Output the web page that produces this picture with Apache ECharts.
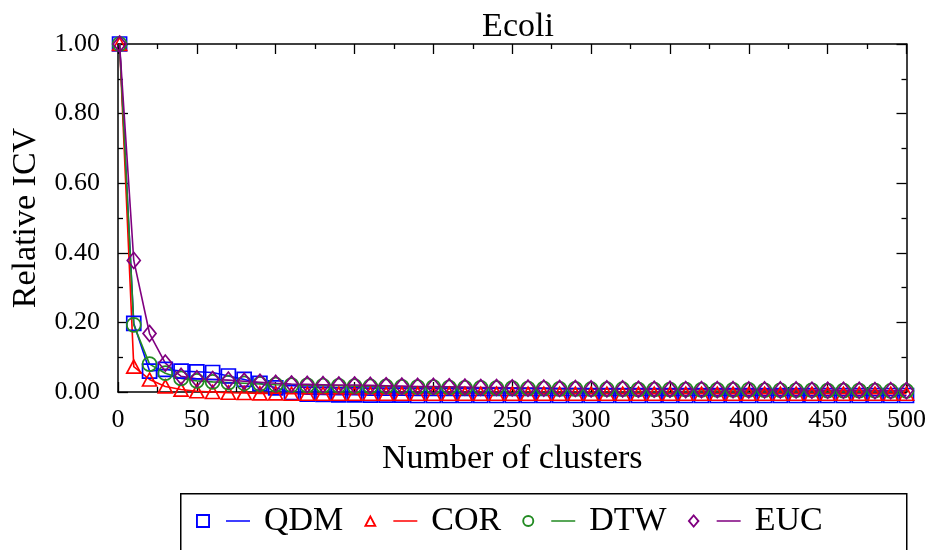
<!DOCTYPE html>
<html>
<head>
<meta charset="utf-8">
<script src="https://cdn.jsdelivr.net/npm/echarts@6/dist/echarts.min.js"></script>
<style>
html,body{margin:0;padding:0;background:#fff;}
#chart{width:929px;height:550px;}
</style>
</head>
<body>
<div id="chart"></div>
<script>
// ---- data ----
const clusters = [1,10,20,30,40,50,60,70,80,90,100,110,120,130,140,150,160,170,180,190,200,210,220,230,240,250,260,270,280,290,300,310,320,330,340,350,360,370,380,390,400,410,420,430,440,450,460,470,480,490,500];
const QDM = [1.000,0.197,0.060,0.065,0.060,0.058,0.056,0.046,0.036,0.025,0.012,-0.002,
  -0.006,-0.007,-0.008,-0.008,-0.009,-0.009,-0.009,-0.010,-0.010,-0.010,-0.010,-0.010,-0.010,-0.010,-0.010,-0.010,-0.010,-0.010,-0.010,
  -0.010,-0.010,-0.010,-0.010,-0.010,-0.010,-0.010,-0.010,-0.010,-0.010,-0.010,-0.010,-0.010,-0.010,-0.010,-0.010,-0.010,-0.010,-0.010,-0.010];
const COR = [1.000,0.073,0.036,0.016,0.007,0.002,0.000,-0.002,-0.003,-0.004,-0.004,-0.005,
  -0.005,-0.005,-0.005,-0.005,-0.005,-0.005,-0.005,-0.005,-0.005,-0.005,-0.005,-0.005,-0.005,-0.005,-0.005,-0.005,-0.005,-0.005,-0.005,
  -0.005,-0.005,-0.005,-0.005,-0.005,-0.005,-0.005,-0.005,-0.005,-0.005,-0.005,-0.005,-0.005,-0.005,-0.005,-0.005,-0.005,-0.005,-0.005,-0.005];
const DTW = [1.000,0.193,0.080,0.054,0.039,0.032,0.029,0.027,0.025,0.023,0.021,0.020,
  0.019,0.018,0.018,0.017,0.016,0.016,0.015,0.014,0.014,0.013,0.012,0.012,0.011,0.011,0.010,0.010,0.009,0.009,0.008,
  0.008,0.008,0.007,0.007,0.007,0.007,0.006,0.006,0.006,0.006,0.005,0.005,0.005,0.005,0.004,0.004,0.004,0.004,0.003,0.003];
const EUC = [1.000,0.378,0.168,0.083,0.045,0.038,0.036,0.034,0.031,0.028,0.025,0.023,
  0.022,0.021,0.020,0.020,0.019,0.018,0.017,0.016,0.016,0.015,0.014,0.013,0.013,0.012,0.011,0.011,0.010,0.010,0.009,
  0.009,0.009,0.008,0.008,0.008,0.007,0.007,0.007,0.007,0.006,0.006,0.006,0.006,0.005,0.005,0.005,0.005,0.004,0.004,0.004];
const seriesNames = ['QDM','COR','DTW','EUC'];
const xTicks = [0,50,100,150,200,250,300,350,400,450,500];
const yTicks = [0.00,0.20,0.40,0.60,0.80,1.00];

// ---- styling ----
const FONT = 'Liberation Serif';
const colors = {QDM:'#0000ff', COR:'#ff0000', DTW:'#228b22', EUC:'#800080'};
const symbols = {QDM:'rect', COR:'triangle', DTW:'circle', EUC:'diamond'};
const sizes = {QDM:14, COR:[14,13], DTW:14, EUC:[13,16]};
const values = {QDM, COR, DTW, EUC};

// legend icons: marker + short line, box 64x16
const bbox = 'M0,0h0.01v0.01h-0.01Z M63.99,15.99h0.01v0.01h-0.01Z ';
const lineSeg = 'M31,7.2H55V8.8H31Z ';
const markerPaths = {
  QDM: 'M1,1H15V15H1Z M2.9,2.9V13.1H13.1V2.9Z ',
  COR: 'M8,1.5L14.5,13.8L1.5,13.8Z M8,5.6L4.6,12.1L11.4,12.1Z ',
  DTW: 'M2,8A6,6 0 1,1 14,8A6,6 0 1,1 2,8Z M3.9,8A4.1,4.1 0 1,0 12.1,8A4.1,4.1 0 1,0 3.9,8Z ',
  EUC: 'M8,1L14,8L8,15L2,8Z M8,3.8L4.5,8L8,12.2L11.5,8Z '
};

const axisCommon = {
  axisLine:{show:true, onZero:false, lineStyle:{color:'#000', width:1.5}},
  axisTick:{show:true, inside:true, length:10, lineStyle:{color:'#000', width:1.3}},
  minorTick:{show:true, splitNumber:2, length:5, lineStyle:{color:'#000', width:1.3}},
  splitLine:{show:false},
  minorSplitLine:{show:false}
};

const option = {
  animation:false,
  backgroundColor:'#fff',
  title:{
    text:'Ecoli', left:513, top:5, textAlign:'center',
    textStyle:{fontFamily:FONT, fontSize:34, fontWeight:'normal', color:'#000'}
  },
  grid:{left:118, right:21, top:44, bottom:158},
  graphic:[{
    type:'rect', silent:true,
    shape:{x:180.75, y:493.75, width:726, height:90},
    style:{fill:'none', stroke:'#000', lineWidth:1.5}
  }],
  legend:{
    left:180, top:493,
    orient:'horizontal',
    padding:[11,84,10,15],
    itemWidth:64, itemHeight:16, itemGap:19,
    textStyle:{fontFamily:FONT, fontSize:34, color:'#000'},
    data: seriesNames.map(n => ({
      name:n,
      icon:'path://' + bbox + markerPaths[n] + lineSeg,
      itemStyle:{color:colors[n], borderWidth:0}
    }))
  },
  xAxis:[
    Object.assign({
      type:'value', position:'bottom', min:0, max:500, interval:50,
      name:'Number of clusters', nameLocation:'middle', nameGap:50,
      nameTextStyle:{fontFamily:FONT, fontSize:34, color:'#000'},
      axisLabel:{fontFamily:FONT, fontSize:26, color:'#000', margin:15,
        formatter: v => xTicks.includes(v) ? String(v) : ''}
    }, axisCommon),
    Object.assign({
      type:'value', position:'top', min:0, max:500, interval:50,
      axisLabel:{show:false}
    }, axisCommon)
  ],
  yAxis:[
    Object.assign({
      type:'value', position:'left', min:0, max:1, interval:0.2,
      name:'Relative ICV', nameLocation:'middle', nameGap:75, nameRotate:90,
      nameTextStyle:{fontFamily:FONT, fontSize:34, color:'#000'},
      axisLabel:{fontFamily:FONT, fontSize:26, color:'#000', margin:18,
        formatter: v => { const t = yTicks.find(y => Math.abs(y - v) < 1e-9); return t === undefined ? '' : t.toFixed(2); }}
    }, axisCommon),
    Object.assign({
      type:'value', position:'right', min:0, max:1, interval:0.2,
      axisLabel:{show:false}
    }, axisCommon)
  ],
  series: seriesNames.map(n => ({
    name:n, type:'line',
    xAxisIndex:0, yAxisIndex:0,
    data: clusters.map((c,i) => [c, values[n][i]]),
    symbol: symbols[n], symbolSize: sizes[n],
    showAllSymbol:true,
    clip:false,
    color: colors[n],
    itemStyle:{color:'rgba(0,0,0,0)', borderColor:colors[n], borderWidth:1.7},
    lineStyle:{color:colors[n], width:1.6},
    emphasis:{disabled:true},
    silent:true
  }))
};

const chart = echarts.init(document.getElementById('chart'), null, {renderer:'canvas'});
chart.setOption(option);
</script>
</body>
</html>
